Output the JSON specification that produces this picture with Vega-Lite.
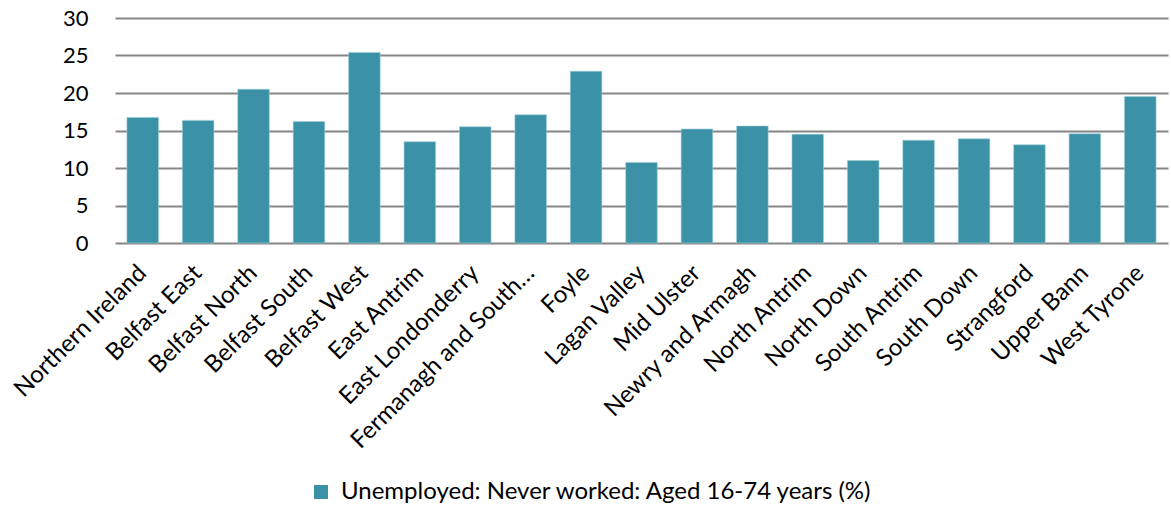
{
  "$schema": "https://vega.github.io/schema/vega-lite/v6.json",
  "width": 1053,
  "height": 225,
  "autosize": {"type": "none"},
  "padding": {"left": 115, "top": 18, "right": 3, "bottom": 269},
  "background": "white",
  "config": {
    "view": {"stroke": null},
    "font": "Lato",
    "axis": {"labelFont": "Lato", "labelColor": "#000000"},
    "legend": {"labelFont": "Lato", "labelColor": "#000000"}
  },
  "data": {
    "values": [
      {"constituency": "Northern Ireland", "value": 16.75, "series": "Unemployed: Never worked: Aged 16-74 years (%)"},
      {"constituency": "Belfast East", "value": 16.35, "series": "Unemployed: Never worked: Aged 16-74 years (%)"},
      {"constituency": "Belfast North", "value": 20.5, "series": "Unemployed: Never worked: Aged 16-74 years (%)"},
      {"constituency": "Belfast South", "value": 16.2, "series": "Unemployed: Never worked: Aged 16-74 years (%)"},
      {"constituency": "Belfast West", "value": 25.4, "series": "Unemployed: Never worked: Aged 16-74 years (%)"},
      {"constituency": "East Antrim", "value": 13.5, "series": "Unemployed: Never worked: Aged 16-74 years (%)"},
      {"constituency": "East Londonderry", "value": 15.5, "series": "Unemployed: Never worked: Aged 16-74 years (%)"},
      {"constituency": "Fermanagh and South Tyrone", "value": 17.1, "series": "Unemployed: Never worked: Aged 16-74 years (%)"},
      {"constituency": "Foyle", "value": 22.9, "series": "Unemployed: Never worked: Aged 16-74 years (%)"},
      {"constituency": "Lagan Valley", "value": 10.75, "series": "Unemployed: Never worked: Aged 16-74 years (%)"},
      {"constituency": "Mid Ulster", "value": 15.2, "series": "Unemployed: Never worked: Aged 16-74 years (%)"},
      {"constituency": "Newry and Armagh", "value": 15.6, "series": "Unemployed: Never worked: Aged 16-74 years (%)"},
      {"constituency": "North Antrim", "value": 14.5, "series": "Unemployed: Never worked: Aged 16-74 years (%)"},
      {"constituency": "North Down", "value": 11.0, "series": "Unemployed: Never worked: Aged 16-74 years (%)"},
      {"constituency": "South Antrim", "value": 13.7, "series": "Unemployed: Never worked: Aged 16-74 years (%)"},
      {"constituency": "South Down", "value": 13.9, "series": "Unemployed: Never worked: Aged 16-74 years (%)"},
      {"constituency": "Strangford", "value": 13.1, "series": "Unemployed: Never worked: Aged 16-74 years (%)"},
      {"constituency": "Upper Bann", "value": 14.57, "series": "Unemployed: Never worked: Aged 16-74 years (%)"},
      {"constituency": "West Tyrone", "value": 19.55, "series": "Unemployed: Never worked: Aged 16-74 years (%)"}
    ]
  },
  "mark": {"type": "bar", "stroke": "#9fd0dc", "strokeWidth": 0.6},
  "encoding": {
    "x": {
      "field": "constituency",
      "type": "nominal",
      "sort": null,
      "title": null,
      "scale": {"paddingInner": 0.43, "paddingOuter": 0.215},
      "axis": {
        "labelAngle": -45,
        "labelAlign": "right",
        "labelBaseline": "middle",
        "labelFontSize": 24,
        "labelPadding": 26,
        "labelLimit": 400,
        "ticks": false,
        "domain": false,
        "labelExpr": "datum.label == 'Fermanagh and South Tyrone' ? 'Fermanagh and South…' : datum.label"
      }
    },
    "y": {
      "field": "value",
      "type": "quantitative",
      "title": null,
      "scale": {"domain": [0, 30], "nice": false},
      "axis": {
        "values": [0, 5, 10, 15, 20, 25, 30],
        "labelFontSize": 22,
        "labelPadding": 27,
        "ticks": false,
        "domain": false,
        "grid": true,
        "gridColor": "#858585",
        "gridWidth": 1.8
      }
    },
    "color": {
      "field": "series",
      "type": "nominal",
      "title": null,
      "scale": {"range": ["#3b91a6"]},
      "legend": {
        "orient": "none",
        "legendX": 194,
        "legendY": 462,
        "symbolType": "square",
        "symbolSize": 196,
        "symbolStrokeWidth": 0,
        "labelFontSize": 24,
        "labelLimit": 800,
        "labelOffset": 8
      }
    }
  }
}
